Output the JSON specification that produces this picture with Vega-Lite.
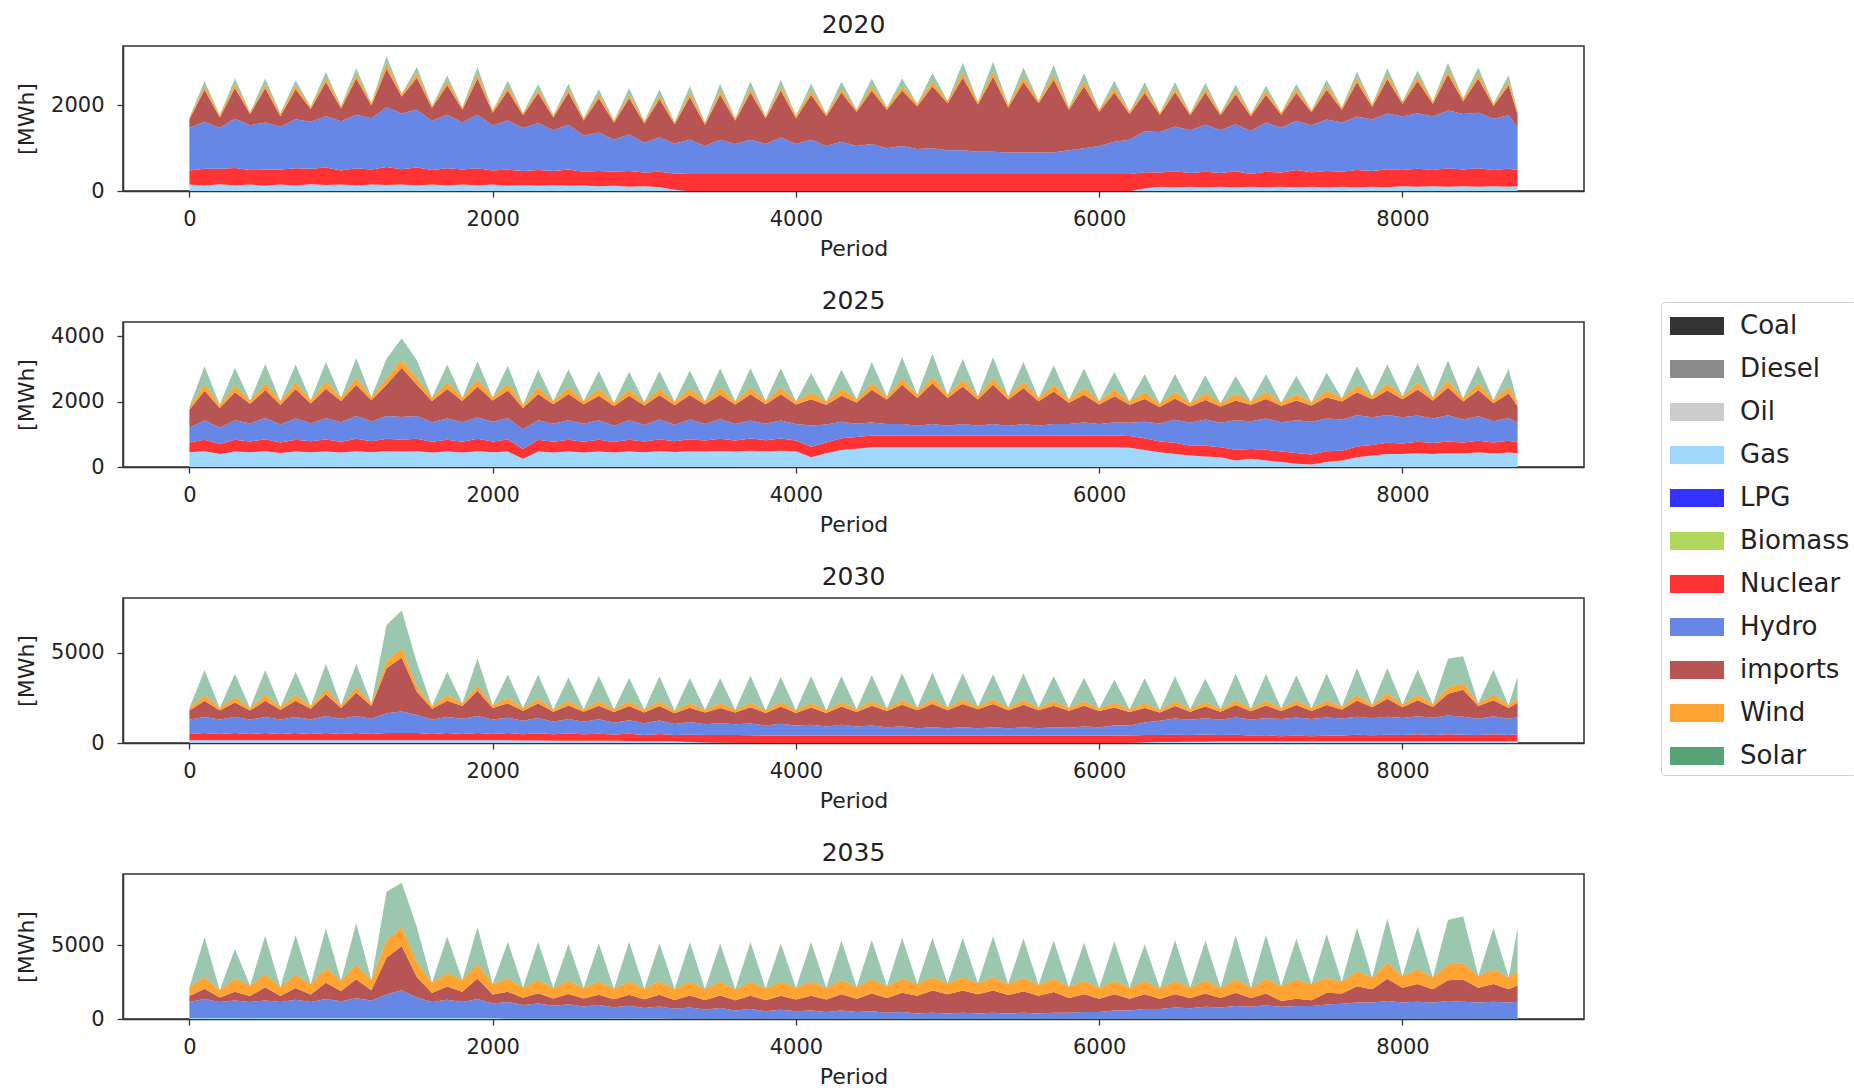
{
  "$schema": "https://vega.github.io/schema/vega-lite/v6.json",
  "padding": {"left": 14, "top": 12, "right": 0, "bottom": 0},
  "bounds": "flush",
  "spacing": 131,
  "config": {
    "view": {"stroke": "#333333", "strokeWidth": 1.5},
    "title": {"font": "DejaVu Sans", "fontSize": 25, "fontWeight": "normal", "color": "#222222", "anchor": "middle", "baseline": "alphabetic", "offset": 8},
    "axis": {"labelFont": "DejaVu Sans", "labelFontSize": 21, "titleFont": "DejaVu Sans", "titleFontSize": 22, "titleFontWeight": "normal", "labelColor": "#222222", "titleColor": "#222222", "domainColor": "#333333", "tickColor": "#333333", "tickSize": 6, "domainWidth": 1.5, "tickWidth": 1.3, "grid": false, "labelFlush": false, "labelOverlap": false},
    "axisX": {"labelPadding": 11, "titlePadding": 9},
    "axisY": {"labelPadding": 13, "titlePadding": 12},
    "area": {"interpolate": "linear"}
  },
  "datasets": {
    "ord": [
      {"source": "Gas", "k": 0}, {"source": "Nuclear", "k": 1}, {"source": "Hydro", "k": 2},
      {"source": "imports", "k": 3}, {"source": "Wind", "k": 4}, {"source": "Solar", "k": 5}
    ],
    "d2020": [
      {"t":0,"Gas":150,"Nuclear":330,"Hydro":1000,"imports":200,"Wind":40,"Solar":0},
      {"t":100,"Gas":120,"Nuclear":400,"Hydro":1100,"imports":750,"Wind":80,"Solar":120},
      {"t":200,"Gas":160,"Nuclear":360,"Hydro":950,"imports":250,"Wind":50,"Solar":0},
      {"t":300,"Gas":130,"Nuclear":410,"Hydro":1150,"imports":720,"Wind":90,"Solar":130},
      {"t":400,"Gas":150,"Nuclear":340,"Hydro":1050,"imports":260,"Wind":40,"Solar":0},
      {"t":500,"Gas":120,"Nuclear":380,"Hydro":1100,"imports":800,"Wind":80,"Solar":150},
      {"t":600,"Gas":150,"Nuclear":350,"Hydro":1000,"imports":250,"Wind":60,"Solar":0},
      {"t":700,"Gas":130,"Nuclear":400,"Hydro":1150,"imports":700,"Wind":90,"Solar":120},
      {"t":800,"Gas":160,"Nuclear":360,"Hydro":1100,"imports":300,"Wind":50,"Solar":0},
      {"t":900,"Gas":140,"Nuclear":410,"Hydro":1200,"imports":800,"Wind":90,"Solar":140},
      {"t":1000,"Gas":150,"Nuclear":330,"Hydro":1150,"imports":300,"Wind":50,"Solar":0},
      {"t":1100,"Gas":130,"Nuclear":400,"Hydro":1250,"imports":850,"Wind":90,"Solar":150},
      {"t":1200,"Gas":150,"Nuclear":350,"Hydro":1200,"imports":300,"Wind":60,"Solar":0},
      {"t":1300,"Gas":140,"Nuclear":420,"Hydro":1400,"imports":900,"Wind":110,"Solar":180},
      {"t":1400,"Gas":150,"Nuclear":360,"Hydro":1300,"imports":400,"Wind":60,"Solar":0},
      {"t":1500,"Gas":130,"Nuclear":420,"Hydro":1350,"imports":750,"Wind":100,"Solar":150},
      {"t":1600,"Gas":150,"Nuclear":340,"Hydro":1150,"imports":300,"Wind":50,"Solar":0},
      {"t":1700,"Gas":130,"Nuclear":400,"Hydro":1250,"imports":700,"Wind":90,"Solar":130},
      {"t":1800,"Gas":150,"Nuclear":350,"Hydro":1100,"imports":300,"Wind":50,"Solar":0},
      {"t":1900,"Gas":130,"Nuclear":400,"Hydro":1250,"imports":850,"Wind":100,"Solar":170},
      {"t":2000,"Gas":150,"Nuclear":330,"Hydro":1050,"imports":300,"Wind":50,"Solar":0},
      {"t":2100,"Gas":120,"Nuclear":380,"Hydro":1150,"imports":700,"Wind":90,"Solar":140},
      {"t":2200,"Gas":140,"Nuclear":330,"Hydro":1000,"imports":300,"Wind":50,"Solar":0},
      {"t":2300,"Gas":120,"Nuclear":370,"Hydro":1100,"imports":700,"Wind":80,"Solar":130},
      {"t":2400,"Gas":140,"Nuclear":330,"Hydro":950,"imports":300,"Wind":50,"Solar":0},
      {"t":2500,"Gas":120,"Nuclear":380,"Hydro":1050,"imports":750,"Wind":80,"Solar":130},
      {"t":2600,"Gas":130,"Nuclear":320,"Hydro":850,"imports":350,"Wind":50,"Solar":0},
      {"t":2700,"Gas":110,"Nuclear":360,"Hydro":900,"imports":800,"Wind":80,"Solar":130},
      {"t":2800,"Gas":120,"Nuclear":330,"Hydro":750,"imports":400,"Wind":50,"Solar":0},
      {"t":2900,"Gas":100,"Nuclear":370,"Hydro":850,"imports":850,"Wind":80,"Solar":150},
      {"t":3000,"Gas":110,"Nuclear":320,"Hydro":700,"imports":450,"Wind":50,"Solar":0},
      {"t":3100,"Gas":90,"Nuclear":360,"Hydro":800,"imports":900,"Wind":80,"Solar":150},
      {"t":3200,"Gas":30,"Nuclear":380,"Hydro":700,"imports":450,"Wind":50,"Solar":0},
      {"t":3300,"Gas":0,"Nuclear":400,"Hydro":800,"imports":1000,"Wind":90,"Solar":160},
      {"t":3400,"Gas":0,"Nuclear":400,"Hydro":650,"imports":500,"Wind":50,"Solar":0},
      {"t":3500,"Gas":0,"Nuclear":400,"Hydro":800,"imports":1050,"Wind":90,"Solar":160},
      {"t":3600,"Gas":0,"Nuclear":400,"Hydro":700,"imports":550,"Wind":50,"Solar":0},
      {"t":3700,"Gas":0,"Nuclear":400,"Hydro":800,"imports":1100,"Wind":90,"Solar":170},
      {"t":3800,"Gas":0,"Nuclear":400,"Hydro":700,"imports":600,"Wind":50,"Solar":0},
      {"t":3900,"Gas":0,"Nuclear":400,"Hydro":850,"imports":1100,"Wind":90,"Solar":160},
      {"t":4000,"Gas":0,"Nuclear":400,"Hydro":700,"imports":600,"Wind":60,"Solar":0},
      {"t":4100,"Gas":0,"Nuclear":400,"Hydro":800,"imports":1050,"Wind":100,"Solar":160},
      {"t":4200,"Gas":0,"Nuclear":400,"Hydro":650,"imports":700,"Wind":50,"Solar":0},
      {"t":4300,"Gas":0,"Nuclear":400,"Hydro":750,"imports":1150,"Wind":90,"Solar":170},
      {"t":4400,"Gas":0,"Nuclear":400,"Hydro":650,"imports":800,"Wind":50,"Solar":0},
      {"t":4500,"Gas":0,"Nuclear":400,"Hydro":700,"imports":1250,"Wind":100,"Solar":180},
      {"t":4600,"Gas":0,"Nuclear":400,"Hydro":600,"imports":900,"Wind":50,"Solar":0},
      {"t":4700,"Gas":0,"Nuclear":400,"Hydro":650,"imports":1300,"Wind":100,"Solar":180},
      {"t":4800,"Gas":0,"Nuclear":400,"Hydro":580,"imports":1000,"Wind":60,"Solar":0},
      {"t":4900,"Gas":0,"Nuclear":400,"Hydro":600,"imports":1450,"Wind":110,"Solar":200},
      {"t":5000,"Gas":0,"Nuclear":400,"Hydro":550,"imports":1100,"Wind":60,"Solar":0},
      {"t":5100,"Gas":0,"Nuclear":400,"Hydro":550,"imports":1700,"Wind":120,"Solar":230},
      {"t":5200,"Gas":0,"Nuclear":400,"Hydro":520,"imports":1100,"Wind":60,"Solar":0},
      {"t":5300,"Gas":0,"Nuclear":400,"Hydro":520,"imports":1750,"Wind":120,"Solar":230},
      {"t":5400,"Gas":0,"Nuclear":400,"Hydro":500,"imports":1050,"Wind":60,"Solar":0},
      {"t":5500,"Gas":0,"Nuclear":400,"Hydro":500,"imports":1650,"Wind":120,"Solar":220},
      {"t":5600,"Gas":0,"Nuclear":400,"Hydro":500,"imports":1150,"Wind":60,"Solar":0},
      {"t":5700,"Gas":0,"Nuclear":400,"Hydro":500,"imports":1700,"Wind":120,"Solar":230},
      {"t":5800,"Gas":0,"Nuclear":400,"Hydro":550,"imports":950,"Wind":60,"Solar":0},
      {"t":5900,"Gas":0,"Nuclear":400,"Hydro":600,"imports":1450,"Wind":110,"Solar":200},
      {"t":6000,"Gas":0,"Nuclear":400,"Hydro":650,"imports":800,"Wind":50,"Solar":0},
      {"t":6100,"Gas":0,"Nuclear":400,"Hydro":750,"imports":1150,"Wind":100,"Solar":180},
      {"t":6200,"Gas":0,"Nuclear":400,"Hydro":800,"imports":600,"Wind":50,"Solar":0},
      {"t":6300,"Gas":60,"Nuclear":380,"Hydro":950,"imports":900,"Wind":90,"Solar":160},
      {"t":6400,"Gas":100,"Nuclear":330,"Hydro":950,"imports":400,"Wind":50,"Solar":0},
      {"t":6500,"Gas":90,"Nuclear":370,"Hydro":1050,"imports":800,"Wind":90,"Solar":150},
      {"t":6600,"Gas":100,"Nuclear":320,"Hydro":1000,"imports":350,"Wind":50,"Solar":0},
      {"t":6700,"Gas":90,"Nuclear":360,"Hydro":1100,"imports":750,"Wind":90,"Solar":140},
      {"t":6800,"Gas":100,"Nuclear":320,"Hydro":1000,"imports":350,"Wind":50,"Solar":0},
      {"t":6900,"Gas":90,"Nuclear":370,"Hydro":1100,"imports":700,"Wind":90,"Solar":140},
      {"t":7000,"Gas":100,"Nuclear":300,"Hydro":1000,"imports":350,"Wind":50,"Solar":0},
      {"t":7100,"Gas":90,"Nuclear":360,"Hydro":1150,"imports":650,"Wind":80,"Solar":130},
      {"t":7200,"Gas":100,"Nuclear":330,"Hydro":1050,"imports":300,"Wind":50,"Solar":0},
      {"t":7300,"Gas":90,"Nuclear":400,"Hydro":1150,"imports":650,"Wind":90,"Solar":130},
      {"t":7400,"Gas":100,"Nuclear":340,"Hydro":1100,"imports":300,"Wind":50,"Solar":0},
      {"t":7500,"Gas":90,"Nuclear":380,"Hydro":1200,"imports":700,"Wind":90,"Solar":140},
      {"t":7600,"Gas":100,"Nuclear":350,"Hydro":1150,"imports":300,"Wind":50,"Solar":0},
      {"t":7700,"Gas":90,"Nuclear":400,"Hydro":1250,"imports":800,"Wind":100,"Solar":150},
      {"t":7800,"Gas":100,"Nuclear":370,"Hydro":1200,"imports":300,"Wind":50,"Solar":0},
      {"t":7900,"Gas":90,"Nuclear":420,"Hydro":1300,"imports":800,"Wind":100,"Solar":160},
      {"t":8000,"Gas":110,"Nuclear":380,"Hydro":1250,"imports":300,"Wind":50,"Solar":0},
      {"t":8100,"Gas":100,"Nuclear":420,"Hydro":1300,"imports":750,"Wind":100,"Solar":150},
      {"t":8200,"Gas":110,"Nuclear":380,"Hydro":1250,"imports":300,"Wind":60,"Solar":0},
      {"t":8300,"Gas":100,"Nuclear":430,"Hydro":1350,"imports":850,"Wind":100,"Solar":170},
      {"t":8400,"Gas":110,"Nuclear":390,"Hydro":1300,"imports":300,"Wind":60,"Solar":0},
      {"t":8500,"Gas":100,"Nuclear":430,"Hydro":1300,"imports":800,"Wind":100,"Solar":160},
      {"t":8600,"Gas":110,"Nuclear":380,"Hydro":1200,"imports":300,"Wind":50,"Solar":0},
      {"t":8700,"Gas":100,"Nuclear":420,"Hydro":1250,"imports":700,"Wind":90,"Solar":150},
      {"t":8759,"Gas":110,"Nuclear":380,"Hydro":1000,"imports":300,"Wind":50,"Solar":0}
    ],
    "d2025": [
      {"t":0,"Gas":450,"Nuclear":300,"Hydro":450,"imports":550,"Wind":100,"Solar":0},
      {"t":100,"Gas":480,"Nuclear":350,"Hydro":600,"imports":900,"Wind":200,"Solar":550},
      {"t":200,"Gas":400,"Nuclear":300,"Hydro":500,"imports":600,"Wind":100,"Solar":0},
      {"t":300,"Gas":470,"Nuclear":360,"Hydro":600,"imports":850,"Wind":200,"Solar":550},
      {"t":400,"Gas":450,"Nuclear":330,"Hydro":550,"imports":600,"Wind":100,"Solar":0},
      {"t":500,"Gas":480,"Nuclear":370,"Hydro":650,"imports":850,"Wind":200,"Solar":600},
      {"t":600,"Gas":430,"Nuclear":320,"Hydro":550,"imports":600,"Wind":120,"Solar":0},
      {"t":700,"Gas":470,"Nuclear":360,"Hydro":650,"imports":900,"Wind":200,"Solar":550},
      {"t":800,"Gas":450,"Nuclear":340,"Hydro":550,"imports":600,"Wind":100,"Solar":0},
      {"t":900,"Gas":470,"Nuclear":370,"Hydro":650,"imports":900,"Wind":220,"Solar":600},
      {"t":1000,"Gas":440,"Nuclear":330,"Hydro":600,"imports":650,"Wind":100,"Solar":0},
      {"t":1100,"Gas":480,"Nuclear":380,"Hydro":700,"imports":950,"Wind":220,"Solar":600},
      {"t":1200,"Gas":450,"Nuclear":340,"Hydro":600,"imports":650,"Wind":100,"Solar":0},
      {"t":1300,"Gas":480,"Nuclear":380,"Hydro":700,"imports":950,"Wind":200,"Solar":600},
      {"t":1400,"Gas":470,"Nuclear":360,"Hydro":700,"imports":1500,"Wind":250,"Solar":650},
      {"t":1500,"Gas":480,"Nuclear":380,"Hydro":700,"imports":950,"Wind":200,"Solar":550},
      {"t":1600,"Gas":440,"Nuclear":330,"Hydro":600,"imports":650,"Wind":100,"Solar":0},
      {"t":1700,"Gas":470,"Nuclear":360,"Hydro":650,"imports":900,"Wind":200,"Solar":550},
      {"t":1800,"Gas":440,"Nuclear":330,"Hydro":600,"imports":650,"Wind":100,"Solar":0},
      {"t":1900,"Gas":480,"Nuclear":380,"Hydro":650,"imports":950,"Wind":220,"Solar":550},
      {"t":2000,"Gas":450,"Nuclear":330,"Hydro":600,"imports":650,"Wind":100,"Solar":0},
      {"t":2100,"Gas":470,"Nuclear":370,"Hydro":650,"imports":850,"Wind":200,"Solar":550},
      {"t":2200,"Gas":250,"Nuclear":300,"Hydro":600,"imports":650,"Wind":100,"Solar":0},
      {"t":2300,"Gas":470,"Nuclear":360,"Hydro":600,"imports":800,"Wind":200,"Solar":550},
      {"t":2400,"Gas":440,"Nuclear":330,"Hydro":550,"imports":600,"Wind":100,"Solar":0},
      {"t":2500,"Gas":470,"Nuclear":360,"Hydro":600,"imports":800,"Wind":200,"Solar":550},
      {"t":2600,"Gas":440,"Nuclear":330,"Hydro":550,"imports":600,"Wind":100,"Solar":0},
      {"t":2700,"Gas":470,"Nuclear":360,"Hydro":600,"imports":750,"Wind":200,"Solar":550},
      {"t":2800,"Gas":440,"Nuclear":320,"Hydro":500,"imports":600,"Wind":100,"Solar":0},
      {"t":2900,"Gas":470,"Nuclear":360,"Hydro":600,"imports":750,"Wind":180,"Solar":550},
      {"t":3000,"Gas":450,"Nuclear":330,"Hydro":500,"imports":600,"Wind":100,"Solar":0},
      {"t":3100,"Gas":480,"Nuclear":370,"Hydro":600,"imports":750,"Wind":180,"Solar":550},
      {"t":3200,"Gas":460,"Nuclear":330,"Hydro":500,"imports":600,"Wind":100,"Solar":0},
      {"t":3300,"Gas":480,"Nuclear":370,"Hydro":600,"imports":750,"Wind":200,"Solar":550},
      {"t":3400,"Gas":470,"Nuclear":340,"Hydro":500,"imports":600,"Wind":100,"Solar":0},
      {"t":3500,"Gas":490,"Nuclear":370,"Hydro":600,"imports":750,"Wind":200,"Solar":600},
      {"t":3600,"Gas":470,"Nuclear":340,"Hydro":500,"imports":600,"Wind":100,"Solar":0},
      {"t":3700,"Gas":500,"Nuclear":370,"Hydro":550,"imports":800,"Wind":200,"Solar":600},
      {"t":3800,"Gas":480,"Nuclear":340,"Hydro":500,"imports":600,"Wind":100,"Solar":0},
      {"t":3900,"Gas":500,"Nuclear":370,"Hydro":550,"imports":800,"Wind":200,"Solar":600},
      {"t":4000,"Gas":480,"Nuclear":330,"Hydro":500,"imports":600,"Wind":100,"Solar":0},
      {"t":4100,"Gas":300,"Nuclear":320,"Hydro":650,"imports":800,"Wind":200,"Solar":600},
      {"t":4200,"Gas":420,"Nuclear":330,"Hydro":550,"imports":600,"Wind":100,"Solar":0},
      {"t":4300,"Gas":520,"Nuclear":360,"Hydro":500,"imports":800,"Wind":200,"Solar":600},
      {"t":4400,"Gas":560,"Nuclear":360,"Hydro":400,"imports":650,"Wind":100,"Solar":0},
      {"t":4500,"Gas":600,"Nuclear":360,"Hydro":400,"imports":1000,"Wind":200,"Solar":650},
      {"t":4600,"Gas":600,"Nuclear":360,"Hydro":350,"imports":750,"Wind":100,"Solar":0},
      {"t":4700,"Gas":600,"Nuclear":360,"Hydro":350,"imports":1200,"Wind":200,"Solar":650},
      {"t":4800,"Gas":600,"Nuclear":360,"Hydro":300,"imports":850,"Wind":100,"Solar":0},
      {"t":4900,"Gas":600,"Nuclear":360,"Hydro":350,"imports":1250,"Wind":200,"Solar":700},
      {"t":5000,"Gas":600,"Nuclear":360,"Hydro":300,"imports":850,"Wind":100,"Solar":0},
      {"t":5100,"Gas":600,"Nuclear":360,"Hydro":350,"imports":1150,"Wind":200,"Solar":650},
      {"t":5200,"Gas":600,"Nuclear":360,"Hydro":300,"imports":800,"Wind":100,"Solar":0},
      {"t":5300,"Gas":600,"Nuclear":360,"Hydro":350,"imports":1200,"Wind":200,"Solar":650},
      {"t":5400,"Gas":600,"Nuclear":360,"Hydro":300,"imports":800,"Wind":100,"Solar":0},
      {"t":5500,"Gas":600,"Nuclear":360,"Hydro":350,"imports":1100,"Wind":200,"Solar":600},
      {"t":5600,"Gas":600,"Nuclear":360,"Hydro":300,"imports":750,"Wind":100,"Solar":0},
      {"t":5700,"Gas":600,"Nuclear":360,"Hydro":350,"imports":1000,"Wind":200,"Solar":600},
      {"t":5800,"Gas":600,"Nuclear":360,"Hydro":350,"imports":650,"Wind":100,"Solar":0},
      {"t":5900,"Gas":600,"Nuclear":360,"Hydro":400,"imports":850,"Wind":200,"Solar":600},
      {"t":6000,"Gas":600,"Nuclear":360,"Hydro":350,"imports":600,"Wind":100,"Solar":0},
      {"t":6100,"Gas":600,"Nuclear":360,"Hydro":400,"imports":800,"Wind":200,"Solar":550},
      {"t":6200,"Gas":590,"Nuclear":360,"Hydro":400,"imports":550,"Wind":100,"Solar":0},
      {"t":6300,"Gas":520,"Nuclear":360,"Hydro":500,"imports":700,"Wind":200,"Solar":550},
      {"t":6400,"Gas":450,"Nuclear":330,"Hydro":550,"imports":500,"Wind":100,"Solar":0},
      {"t":6500,"Gas":400,"Nuclear":340,"Hydro":700,"imports":650,"Wind":200,"Solar":550},
      {"t":6600,"Gas":350,"Nuclear":300,"Hydro":700,"imports":500,"Wind":100,"Solar":0},
      {"t":6700,"Gas":320,"Nuclear":330,"Hydro":800,"imports":600,"Wind":200,"Solar":550},
      {"t":6800,"Gas":300,"Nuclear":300,"Hydro":750,"imports":500,"Wind":100,"Solar":0},
      {"t":6900,"Gas":200,"Nuclear":330,"Hydro":900,"imports":600,"Wind":200,"Solar":550},
      {"t":7000,"Gas":250,"Nuclear":300,"Hydro":850,"imports":500,"Wind":100,"Solar":0},
      {"t":7100,"Gas":200,"Nuclear":330,"Hydro":950,"imports":600,"Wind":200,"Solar":550},
      {"t":7200,"Gas":150,"Nuclear":320,"Hydro":900,"imports":500,"Wind":100,"Solar":0},
      {"t":7300,"Gas":100,"Nuclear":330,"Hydro":1000,"imports":600,"Wind":200,"Solar":550},
      {"t":7400,"Gas":80,"Nuclear":300,"Hydro":1000,"imports":500,"Wind":100,"Solar":0},
      {"t":7500,"Gas":150,"Nuclear":330,"Hydro":1000,"imports":650,"Wind":200,"Solar":550},
      {"t":7600,"Gas":200,"Nuclear":300,"Hydro":950,"imports":550,"Wind":100,"Solar":0},
      {"t":7700,"Gas":300,"Nuclear":330,"Hydro":950,"imports":700,"Wind":200,"Solar":600},
      {"t":7800,"Gas":350,"Nuclear":320,"Hydro":850,"imports":550,"Wind":100,"Solar":0},
      {"t":7900,"Gas":400,"Nuclear":340,"Hydro":850,"imports":750,"Wind":200,"Solar":600},
      {"t":8000,"Gas":400,"Nuclear":320,"Hydro":800,"imports":550,"Wind":100,"Solar":0},
      {"t":8100,"Gas":420,"Nuclear":350,"Hydro":800,"imports":800,"Wind":200,"Solar":600},
      {"t":8200,"Gas":400,"Nuclear":330,"Hydro":750,"imports":550,"Wind":100,"Solar":0},
      {"t":8300,"Gas":430,"Nuclear":350,"Hydro":800,"imports":850,"Wind":220,"Solar":600},
      {"t":8400,"Gas":420,"Nuclear":330,"Hydro":700,"imports":550,"Wind":100,"Solar":0},
      {"t":8500,"Gas":440,"Nuclear":360,"Hydro":750,"imports":800,"Wind":200,"Solar":550},
      {"t":8600,"Gas":420,"Nuclear":330,"Hydro":650,"imports":550,"Wind":100,"Solar":0},
      {"t":8700,"Gas":440,"Nuclear":360,"Hydro":700,"imports":750,"Wind":200,"Solar":550},
      {"t":8759,"Gas":420,"Nuclear":330,"Hydro":600,"imports":500,"Wind":100,"Solar":0}
    ],
    "d2030": [
      {"t":0,"Gas":150,"Nuclear":350,"Hydro":800,"imports":500,"Wind":150,"Solar":0},
      {"t":100,"Gas":150,"Nuclear":400,"Hydro":900,"imports":900,"Wind":300,"Solar":1400},
      {"t":200,"Gas":150,"Nuclear":350,"Hydro":800,"imports":500,"Wind":150,"Solar":0},
      {"t":300,"Gas":150,"Nuclear":400,"Hydro":900,"imports":800,"Wind":300,"Solar":1300},
      {"t":400,"Gas":150,"Nuclear":350,"Hydro":800,"imports":500,"Wind":150,"Solar":0},
      {"t":500,"Gas":150,"Nuclear":400,"Hydro":900,"imports":900,"Wind":300,"Solar":1400},
      {"t":600,"Gas":150,"Nuclear":350,"Hydro":800,"imports":550,"Wind":150,"Solar":0},
      {"t":700,"Gas":150,"Nuclear":400,"Hydro":900,"imports":900,"Wind":300,"Solar":1300},
      {"t":800,"Gas":150,"Nuclear":350,"Hydro":800,"imports":600,"Wind":150,"Solar":0},
      {"t":900,"Gas":150,"Nuclear":400,"Hydro":950,"imports":1200,"Wind":300,"Solar":1400},
      {"t":1000,"Gas":150,"Nuclear":350,"Hydro":850,"imports":600,"Wind":150,"Solar":0},
      {"t":1100,"Gas":150,"Nuclear":400,"Hydro":950,"imports":1300,"Wind":300,"Solar":1300},
      {"t":1200,"Gas":150,"Nuclear":350,"Hydro":850,"imports":700,"Wind":150,"Solar":0},
      {"t":1300,"Gas":150,"Nuclear":400,"Hydro":1100,"imports":2500,"Wind":400,"Solar":2000},
      {"t":1400,"Gas":150,"Nuclear":400,"Hydro":1200,"imports":3000,"Wind":500,"Solar":2100},
      {"t":1500,"Gas":150,"Nuclear":400,"Hydro":1000,"imports":1300,"Wind":300,"Solar":1300},
      {"t":1600,"Gas":150,"Nuclear":350,"Hydro":800,"imports":600,"Wind":150,"Solar":0},
      {"t":1700,"Gas":150,"Nuclear":400,"Hydro":900,"imports":900,"Wind":300,"Solar":1300},
      {"t":1800,"Gas":150,"Nuclear":350,"Hydro":850,"imports":700,"Wind":150,"Solar":0},
      {"t":1900,"Gas":150,"Nuclear":400,"Hydro":950,"imports":1400,"Wind":300,"Solar":1500},
      {"t":2000,"Gas":150,"Nuclear":350,"Hydro":800,"imports":650,"Wind":150,"Solar":0},
      {"t":2100,"Gas":150,"Nuclear":400,"Hydro":850,"imports":800,"Wind":300,"Solar":1300},
      {"t":2200,"Gas":140,"Nuclear":350,"Hydro":750,"imports":550,"Wind":150,"Solar":0},
      {"t":2300,"Gas":140,"Nuclear":400,"Hydro":850,"imports":800,"Wind":250,"Solar":1350},
      {"t":2400,"Gas":130,"Nuclear":350,"Hydro":700,"imports":550,"Wind":150,"Solar":0},
      {"t":2500,"Gas":130,"Nuclear":400,"Hydro":800,"imports":750,"Wind":250,"Solar":1300},
      {"t":2600,"Gas":130,"Nuclear":350,"Hydro":700,"imports":550,"Wind":150,"Solar":0},
      {"t":2700,"Gas":120,"Nuclear":400,"Hydro":800,"imports":750,"Wind":250,"Solar":1400},
      {"t":2800,"Gas":120,"Nuclear":350,"Hydro":650,"imports":600,"Wind":150,"Solar":0},
      {"t":2900,"Gas":110,"Nuclear":400,"Hydro":750,"imports":800,"Wind":250,"Solar":1300},
      {"t":3000,"Gas":100,"Nuclear":350,"Hydro":650,"imports":600,"Wind":150,"Solar":0},
      {"t":3100,"Gas":100,"Nuclear":400,"Hydro":750,"imports":800,"Wind":250,"Solar":1400},
      {"t":3200,"Gas":80,"Nuclear":370,"Hydro":600,"imports":600,"Wind":150,"Solar":0},
      {"t":3300,"Gas":60,"Nuclear":400,"Hydro":700,"imports":800,"Wind":250,"Solar":1400},
      {"t":3400,"Gas":40,"Nuclear":400,"Hydro":600,"imports":650,"Wind":150,"Solar":0},
      {"t":3500,"Gas":30,"Nuclear":420,"Hydro":650,"imports":850,"Wind":250,"Solar":1400},
      {"t":3600,"Gas":20,"Nuclear":420,"Hydro":600,"imports":650,"Wind":150,"Solar":0},
      {"t":3700,"Gas":10,"Nuclear":420,"Hydro":650,"imports":900,"Wind":250,"Solar":1500},
      {"t":3800,"Gas":0,"Nuclear":420,"Hydro":550,"imports":700,"Wind":150,"Solar":0},
      {"t":3900,"Gas":0,"Nuclear":420,"Hydro":650,"imports":950,"Wind":250,"Solar":1400},
      {"t":4000,"Gas":0,"Nuclear":420,"Hydro":550,"imports":700,"Wind":150,"Solar":0},
      {"t":4100,"Gas":0,"Nuclear":420,"Hydro":600,"imports":950,"Wind":250,"Solar":1500},
      {"t":4200,"Gas":0,"Nuclear":420,"Hydro":500,"imports":750,"Wind":150,"Solar":0},
      {"t":4300,"Gas":0,"Nuclear":420,"Hydro":600,"imports":1000,"Wind":250,"Solar":1450},
      {"t":4400,"Gas":0,"Nuclear":420,"Hydro":500,"imports":800,"Wind":150,"Solar":0},
      {"t":4500,"Gas":0,"Nuclear":420,"Hydro":550,"imports":1100,"Wind":250,"Solar":1450},
      {"t":4600,"Gas":0,"Nuclear":420,"Hydro":450,"imports":900,"Wind":150,"Solar":0},
      {"t":4700,"Gas":0,"Nuclear":420,"Hydro":500,"imports":1200,"Wind":250,"Solar":1500},
      {"t":4800,"Gas":0,"Nuclear":420,"Hydro":400,"imports":1000,"Wind":150,"Solar":0},
      {"t":4900,"Gas":0,"Nuclear":420,"Hydro":450,"imports":1300,"Wind":250,"Solar":1500},
      {"t":5000,"Gas":0,"Nuclear":420,"Hydro":400,"imports":1000,"Wind":150,"Solar":0},
      {"t":5100,"Gas":0,"Nuclear":420,"Hydro":450,"imports":1300,"Wind":250,"Solar":1450},
      {"t":5200,"Gas":0,"Nuclear":420,"Hydro":400,"imports":1050,"Wind":150,"Solar":0},
      {"t":5300,"Gas":0,"Nuclear":420,"Hydro":450,"imports":1300,"Wind":250,"Solar":1400},
      {"t":5400,"Gas":0,"Nuclear":420,"Hydro":400,"imports":1000,"Wind":150,"Solar":0},
      {"t":5500,"Gas":0,"Nuclear":420,"Hydro":450,"imports":1250,"Wind":250,"Solar":1500},
      {"t":5600,"Gas":0,"Nuclear":420,"Hydro":400,"imports":1000,"Wind":150,"Solar":0},
      {"t":5700,"Gas":0,"Nuclear":420,"Hydro":450,"imports":1200,"Wind":250,"Solar":1400},
      {"t":5800,"Gas":0,"Nuclear":420,"Hydro":420,"imports":950,"Wind":150,"Solar":0},
      {"t":5900,"Gas":0,"Nuclear":420,"Hydro":500,"imports":1150,"Wind":250,"Solar":1300},
      {"t":6000,"Gas":0,"Nuclear":420,"Hydro":450,"imports":900,"Wind":150,"Solar":0},
      {"t":6100,"Gas":0,"Nuclear":420,"Hydro":550,"imports":1000,"Wind":250,"Solar":1300},
      {"t":6200,"Gas":20,"Nuclear":400,"Hydro":550,"imports":750,"Wind":150,"Solar":0},
      {"t":6300,"Gas":40,"Nuclear":400,"Hydro":700,"imports":800,"Wind":250,"Solar":1400},
      {"t":6400,"Gas":60,"Nuclear":380,"Hydro":800,"imports":450,"Wind":150,"Solar":0},
      {"t":6500,"Gas":60,"Nuclear":400,"Hydro":900,"imports":700,"Wind":250,"Solar":1400},
      {"t":6600,"Gas":70,"Nuclear":370,"Hydro":850,"imports":450,"Wind":150,"Solar":0},
      {"t":6700,"Gas":70,"Nuclear":400,"Hydro":900,"imports":650,"Wind":250,"Solar":1300},
      {"t":6800,"Gas":80,"Nuclear":360,"Hydro":850,"imports":450,"Wind":150,"Solar":0},
      {"t":6900,"Gas":80,"Nuclear":380,"Hydro":950,"imports":700,"Wind":250,"Solar":1500},
      {"t":7000,"Gas":80,"Nuclear":330,"Hydro":900,"imports":450,"Wind":150,"Solar":0},
      {"t":7100,"Gas":80,"Nuclear":350,"Hydro":950,"imports":700,"Wind":250,"Solar":1500},
      {"t":7200,"Gas":80,"Nuclear":300,"Hydro":950,"imports":450,"Wind":150,"Solar":0},
      {"t":7300,"Gas":80,"Nuclear":330,"Hydro":1000,"imports":700,"Wind":250,"Solar":1400},
      {"t":7400,"Gas":80,"Nuclear":300,"Hydro":950,"imports":450,"Wind":150,"Solar":0},
      {"t":7500,"Gas":80,"Nuclear":330,"Hydro":1000,"imports":700,"Wind":250,"Solar":1500},
      {"t":7600,"Gas":80,"Nuclear":330,"Hydro":950,"imports":500,"Wind":150,"Solar":0},
      {"t":7700,"Gas":80,"Nuclear":380,"Hydro":1000,"imports":900,"Wind":300,"Solar":1500},
      {"t":7800,"Gas":80,"Nuclear":350,"Hydro":950,"imports":600,"Wind":150,"Solar":0},
      {"t":7900,"Gas":80,"Nuclear":380,"Hydro":1000,"imports":1000,"Wind":300,"Solar":1400},
      {"t":8000,"Gas":80,"Nuclear":360,"Hydro":950,"imports":600,"Wind":150,"Solar":0},
      {"t":8100,"Gas":80,"Nuclear":400,"Hydro":1000,"imports":900,"Wind":300,"Solar":1400},
      {"t":8200,"Gas":80,"Nuclear":370,"Hydro":950,"imports":600,"Wind":150,"Solar":0},
      {"t":8300,"Gas":80,"Nuclear":400,"Hydro":1050,"imports":1200,"Wind":350,"Solar":1600},
      {"t":8400,"Gas":80,"Nuclear":380,"Hydro":1000,"imports":1500,"Wind":350,"Solar":1500},
      {"t":8500,"Gas":80,"Nuclear":370,"Hydro":900,"imports":700,"Wind":150,"Solar":0},
      {"t":8600,"Gas":80,"Nuclear":400,"Hydro":1000,"imports":900,"Wind":300,"Solar":1400},
      {"t":8700,"Gas":80,"Nuclear":370,"Hydro":900,"imports":600,"Wind":150,"Solar":0},
      {"t":8759,"Gas":80,"Nuclear":400,"Hydro":950,"imports":800,"Wind":250,"Solar":1200}
    ],
    "d2035": [
      {"t":0,"Gas":60,"Nuclear":0,"Hydro":1100,"imports":400,"Wind":600,"Solar":0},
      {"t":100,"Gas":60,"Nuclear":0,"Hydro":1300,"imports":700,"Wind":800,"Solar":2700},
      {"t":200,"Gas":60,"Nuclear":0,"Hydro":1100,"imports":300,"Wind":500,"Solar":0},
      {"t":300,"Gas":60,"Nuclear":0,"Hydro":1200,"imports":600,"Wind":900,"Solar":2000},
      {"t":400,"Gas":60,"Nuclear":0,"Hydro":1100,"imports":400,"Wind":700,"Solar":0},
      {"t":500,"Gas":60,"Nuclear":0,"Hydro":1200,"imports":900,"Wind":900,"Solar":2600},
      {"t":600,"Gas":60,"Nuclear":0,"Hydro":1100,"imports":400,"Wind":600,"Solar":0},
      {"t":700,"Gas":60,"Nuclear":0,"Hydro":1250,"imports":800,"Wind":900,"Solar":2700},
      {"t":800,"Gas":60,"Nuclear":0,"Hydro":1100,"imports":500,"Wind":700,"Solar":0},
      {"t":900,"Gas":60,"Nuclear":0,"Hydro":1300,"imports":1100,"Wind":1000,"Solar":2700},
      {"t":1000,"Gas":60,"Nuclear":0,"Hydro":1150,"imports":700,"Wind":700,"Solar":0},
      {"t":1100,"Gas":60,"Nuclear":0,"Hydro":1350,"imports":1300,"Wind":1000,"Solar":2800},
      {"t":1200,"Gas":60,"Nuclear":0,"Hydro":1200,"imports":700,"Wind":700,"Solar":0},
      {"t":1300,"Gas":60,"Nuclear":0,"Hydro":1600,"imports":2500,"Wind":1200,"Solar":3300},
      {"t":1400,"Gas":60,"Nuclear":0,"Hydro":1900,"imports":3000,"Wind":1300,"Solar":3000},
      {"t":1500,"Gas":60,"Nuclear":0,"Hydro":1400,"imports":1400,"Wind":1000,"Solar":2400},
      {"t":1600,"Gas":60,"Nuclear":0,"Hydro":1100,"imports":600,"Wind":700,"Solar":0},
      {"t":1700,"Gas":60,"Nuclear":0,"Hydro":1250,"imports":900,"Wind":900,"Solar":2500},
      {"t":1800,"Gas":60,"Nuclear":0,"Hydro":1100,"imports":700,"Wind":800,"Solar":0},
      {"t":1900,"Gas":60,"Nuclear":0,"Hydro":1300,"imports":1400,"Wind":1000,"Solar":2500},
      {"t":2000,"Gas":60,"Nuclear":0,"Hydro":1000,"imports":600,"Wind":700,"Solar":0},
      {"t":2100,"Gas":50,"Nuclear":0,"Hydro":1100,"imports":700,"Wind":900,"Solar":2500},
      {"t":2200,"Gas":50,"Nuclear":0,"Hydro":900,"imports":500,"Wind":700,"Solar":0},
      {"t":2300,"Gas":50,"Nuclear":0,"Hydro":1000,"imports":700,"Wind":900,"Solar":2600},
      {"t":2400,"Gas":50,"Nuclear":0,"Hydro":850,"imports":500,"Wind":700,"Solar":0},
      {"t":2500,"Gas":50,"Nuclear":0,"Hydro":950,"imports":700,"Wind":900,"Solar":2500},
      {"t":2600,"Gas":50,"Nuclear":0,"Hydro":800,"imports":550,"Wind":700,"Solar":0},
      {"t":2700,"Gas":50,"Nuclear":0,"Hydro":900,"imports":700,"Wind":900,"Solar":2600},
      {"t":2800,"Gas":50,"Nuclear":0,"Hydro":750,"imports":550,"Wind":700,"Solar":0},
      {"t":2900,"Gas":50,"Nuclear":0,"Hydro":850,"imports":750,"Wind":900,"Solar":2700},
      {"t":3000,"Gas":50,"Nuclear":0,"Hydro":700,"imports":600,"Wind":700,"Solar":0},
      {"t":3100,"Gas":50,"Nuclear":0,"Hydro":800,"imports":800,"Wind":900,"Solar":2600},
      {"t":3200,"Gas":40,"Nuclear":0,"Hydro":650,"imports":600,"Wind":750,"Solar":0},
      {"t":3300,"Gas":40,"Nuclear":0,"Hydro":750,"imports":800,"Wind":950,"Solar":2700},
      {"t":3400,"Gas":40,"Nuclear":0,"Hydro":600,"imports":650,"Wind":750,"Solar":0},
      {"t":3500,"Gas":40,"Nuclear":0,"Hydro":700,"imports":850,"Wind":950,"Solar":2600},
      {"t":3600,"Gas":30,"Nuclear":0,"Hydro":550,"imports":700,"Wind":750,"Solar":0},
      {"t":3700,"Gas":30,"Nuclear":0,"Hydro":650,"imports":900,"Wind":950,"Solar":2700},
      {"t":3800,"Gas":30,"Nuclear":0,"Hydro":500,"imports":750,"Wind":800,"Solar":0},
      {"t":3900,"Gas":30,"Nuclear":0,"Hydro":600,"imports":950,"Wind":950,"Solar":2600},
      {"t":4000,"Gas":30,"Nuclear":0,"Hydro":500,"imports":800,"Wind":800,"Solar":0},
      {"t":4100,"Gas":30,"Nuclear":0,"Hydro":550,"imports":1000,"Wind":950,"Solar":2700},
      {"t":4200,"Gas":30,"Nuclear":0,"Hydro":450,"imports":850,"Wind":800,"Solar":0},
      {"t":4300,"Gas":30,"Nuclear":0,"Hydro":550,"imports":1100,"Wind":950,"Solar":2700},
      {"t":4400,"Gas":30,"Nuclear":0,"Hydro":450,"imports":900,"Wind":800,"Solar":0},
      {"t":4500,"Gas":30,"Nuclear":0,"Hydro":500,"imports":1200,"Wind":950,"Solar":2700},
      {"t":4600,"Gas":30,"Nuclear":0,"Hydro":400,"imports":1000,"Wind":800,"Solar":0},
      {"t":4700,"Gas":30,"Nuclear":0,"Hydro":450,"imports":1300,"Wind":950,"Solar":2800},
      {"t":4800,"Gas":30,"Nuclear":0,"Hydro":350,"imports":1200,"Wind":800,"Solar":0},
      {"t":4900,"Gas":30,"Nuclear":0,"Hydro":400,"imports":1500,"Wind":900,"Solar":2700},
      {"t":5000,"Gas":30,"Nuclear":0,"Hydro":350,"imports":1300,"Wind":750,"Solar":0},
      {"t":5100,"Gas":30,"Nuclear":0,"Hydro":400,"imports":1500,"Wind":900,"Solar":2700},
      {"t":5200,"Gas":30,"Nuclear":0,"Hydro":350,"imports":1300,"Wind":750,"Solar":0},
      {"t":5300,"Gas":30,"Nuclear":0,"Hydro":400,"imports":1500,"Wind":900,"Solar":2800},
      {"t":5400,"Gas":30,"Nuclear":0,"Hydro":350,"imports":1250,"Wind":750,"Solar":0},
      {"t":5500,"Gas":30,"Nuclear":0,"Hydro":400,"imports":1450,"Wind":900,"Solar":2700},
      {"t":5600,"Gas":30,"Nuclear":0,"Hydro":350,"imports":1200,"Wind":750,"Solar":0},
      {"t":5700,"Gas":30,"Nuclear":0,"Hydro":400,"imports":1400,"Wind":900,"Solar":2600},
      {"t":5800,"Gas":30,"Nuclear":0,"Hydro":400,"imports":1000,"Wind":750,"Solar":0},
      {"t":5900,"Gas":30,"Nuclear":0,"Hydro":450,"imports":1200,"Wind":900,"Solar":2600},
      {"t":6000,"Gas":30,"Nuclear":0,"Hydro":450,"imports":900,"Wind":750,"Solar":0},
      {"t":6100,"Gas":30,"Nuclear":0,"Hydro":550,"imports":1100,"Wind":900,"Solar":2700},
      {"t":6200,"Gas":30,"Nuclear":0,"Hydro":550,"imports":800,"Wind":750,"Solar":0},
      {"t":6300,"Gas":30,"Nuclear":0,"Hydro":650,"imports":1000,"Wind":900,"Solar":2500},
      {"t":6400,"Gas":30,"Nuclear":0,"Hydro":650,"imports":700,"Wind":700,"Solar":0},
      {"t":6500,"Gas":30,"Nuclear":0,"Hydro":750,"imports":900,"Wind":900,"Solar":2800},
      {"t":6600,"Gas":30,"Nuclear":0,"Hydro":700,"imports":700,"Wind":700,"Solar":0},
      {"t":6700,"Gas":30,"Nuclear":0,"Hydro":800,"imports":900,"Wind":900,"Solar":2700},
      {"t":6800,"Gas":30,"Nuclear":0,"Hydro":750,"imports":650,"Wind":700,"Solar":0},
      {"t":6900,"Gas":30,"Nuclear":0,"Hydro":850,"imports":900,"Wind":900,"Solar":3000},
      {"t":7000,"Gas":30,"Nuclear":0,"Hydro":800,"imports":600,"Wind":700,"Solar":0},
      {"t":7100,"Gas":30,"Nuclear":0,"Hydro":900,"imports":800,"Wind":1000,"Solar":3000},
      {"t":7200,"Gas":30,"Nuclear":0,"Hydro":800,"imports":400,"Wind":1000,"Solar":0},
      {"t":7300,"Gas":30,"Nuclear":0,"Hydro":850,"imports":500,"Wind":1300,"Solar":2800},
      {"t":7400,"Gas":30,"Nuclear":0,"Hydro":850,"imports":400,"Wind":1100,"Solar":0},
      {"t":7500,"Gas":30,"Nuclear":0,"Hydro":950,"imports":800,"Wind":1000,"Solar":3000},
      {"t":7600,"Gas":30,"Nuclear":0,"Hydro":1000,"imports":700,"Wind":800,"Solar":0},
      {"t":7700,"Gas":30,"Nuclear":0,"Hydro":1100,"imports":1100,"Wind":1000,"Solar":3000},
      {"t":7800,"Gas":30,"Nuclear":0,"Hydro":1100,"imports":900,"Wind":800,"Solar":0},
      {"t":7900,"Gas":30,"Nuclear":0,"Hydro":1200,"imports":1500,"Wind":1100,"Solar":3000},
      {"t":8000,"Gas":30,"Nuclear":0,"Hydro":1100,"imports":1000,"Wind":800,"Solar":0},
      {"t":8100,"Gas":30,"Nuclear":0,"Hydro":1150,"imports":1200,"Wind":1000,"Solar":2900},
      {"t":8200,"Gas":30,"Nuclear":0,"Hydro":1100,"imports":900,"Wind":800,"Solar":0},
      {"t":8300,"Gas":30,"Nuclear":0,"Hydro":1200,"imports":1400,"Wind":1100,"Solar":3000},
      {"t":8400,"Gas":30,"Nuclear":0,"Hydro":1150,"imports":1500,"Wind":1100,"Solar":3200},
      {"t":8500,"Gas":30,"Nuclear":0,"Hydro":1100,"imports":1000,"Wind":800,"Solar":0},
      {"t":8600,"Gas":30,"Nuclear":0,"Hydro":1150,"imports":1200,"Wind":1000,"Solar":2800},
      {"t":8700,"Gas":30,"Nuclear":0,"Hydro":1100,"imports":900,"Wind":800,"Solar":0},
      {"t":8759,"Gas":30,"Nuclear":0,"Hydro":1150,"imports":1100,"Wind":1000,"Solar":2900}
    ]
  },
  "vconcat": [
    {
      "title": {"text": "2020"},
      "width": 1461, "height": 145,
      "data": {"name": "d2020"},
      "transform": [
        {"fold": ["Gas", "Nuclear", "Hydro", "imports", "Wind", "Solar"], "as": ["source", "MWh"]},
        {"lookup": "source", "from": {"data": {"name": "ord"}, "key": "source", "fields": ["k"]}}
      ],
      "mark": {"type": "area"},
      "encoding": {
        "x": {"field": "t", "type": "quantitative", "scale": {"domain": [-438, 9197], "nice": false, "zero": false}, "axis": {"values": [0, 2000, 4000, 6000, 8000], "format": "d", "title": "Period"}},
        "y": {"field": "MWh", "type": "quantitative", "stack": "zero", "scale": {"domain": [0, 3390], "nice": false}, "axis": {"values": [0, 2000], "format": "d", "title": "[MWh]"}},
        "order": {"field": "k", "type": "quantitative", "sort": "ascending"},
        "fillOpacity": {"condition": {"test": "datum.source === 'Solar'", "value": 0.6}, "value": 1},
        "color": {"field": "source", "type": "nominal",
          "scale": {"domain": ["Coal", "Diesel", "Oil", "Gas", "LPG", "Biomass", "Nuclear", "Hydro", "imports", "Wind", "Solar"],
                    "range": ["#333333", "#8c8c8c", "#cccccc", "#9fd8fb", "#3333ff", "#aed75b", "#ff3333", "#6787e7", "#b75555", "#ffa333", "#58a278"]},
          "legend": {"title": null, "orient": "none", "legendX": 1538, "legendY": 256, "symbolType": "M-0.833,-0.5H2.167V0.5H-0.833Z", "symbolSize": 1296, "symbolStrokeWidth": 0, "symbolOpacity": 1, "labelFont": "DejaVu Sans", "labelFontSize": 26, "labelColor": "#222222", "labelOffset": 37, "rowPadding": 12, "padding": 6, "strokeColor": "#d0d0d0", "fillColor": "#ffffff", "cornerRadius": 4}}
      }
    },
    {
      "title": {"text": "2025"},
      "width": 1461, "height": 145,
      "data": {"name": "d2025"},
      "transform": [
        {"fold": ["Gas", "Nuclear", "Hydro", "imports", "Wind", "Solar"], "as": ["source", "MWh"]},
        {"lookup": "source", "from": {"data": {"name": "ord"}, "key": "source", "fields": ["k"]}}
      ],
      "mark": {"type": "area"},
      "encoding": {
        "x": {"field": "t", "type": "quantitative", "scale": {"domain": [-438, 9197], "nice": false, "zero": false}, "axis": {"values": [0, 2000, 4000, 6000, 8000], "format": "d", "title": "Period"}},
        "y": {"field": "MWh", "type": "quantitative", "stack": "zero", "scale": {"domain": [0, 4430], "nice": false}, "axis": {"values": [0, 2000, 4000], "format": "d", "title": "[MWh]"}},
        "order": {"field": "k", "type": "quantitative", "sort": "ascending"},
        "fillOpacity": {"condition": {"test": "datum.source === 'Solar'", "value": 0.6}, "value": 1},
        "color": {"field": "source", "type": "nominal",
          "scale": {"domain": ["Coal", "Diesel", "Oil", "Gas", "LPG", "Biomass", "Nuclear", "Hydro", "imports", "Wind", "Solar"],
                    "range": ["#333333", "#8c8c8c", "#cccccc", "#9fd8fb", "#3333ff", "#aed75b", "#ff3333", "#6787e7", "#b75555", "#ffa333", "#58a278"]},
          "legend": {"title": null, "orient": "none", "legendX": 1538, "legendY": 256, "symbolType": "M-0.833,-0.5H2.167V0.5H-0.833Z", "symbolSize": 1296, "symbolStrokeWidth": 0, "symbolOpacity": 1, "labelFont": "DejaVu Sans", "labelFontSize": 26, "labelColor": "#222222", "labelOffset": 37, "rowPadding": 12, "padding": 6, "strokeColor": "#d0d0d0", "fillColor": "#ffffff", "cornerRadius": 4}}
      }
    },
    {
      "title": {"text": "2030"},
      "width": 1461, "height": 145,
      "data": {"name": "d2030"},
      "transform": [
        {"fold": ["Gas", "Nuclear", "Hydro", "imports", "Wind", "Solar"], "as": ["source", "MWh"]},
        {"lookup": "source", "from": {"data": {"name": "ord"}, "key": "source", "fields": ["k"]}}
      ],
      "mark": {"type": "area"},
      "encoding": {
        "x": {"field": "t", "type": "quantitative", "scale": {"domain": [-438, 9197], "nice": false, "zero": false}, "axis": {"values": [0, 2000, 4000, 6000, 8000], "format": "d", "title": "Period"}},
        "y": {"field": "MWh", "type": "quantitative", "stack": "zero", "scale": {"domain": [0, 8050], "nice": false}, "axis": {"values": [0, 5000], "format": "d", "title": "[MWh]"}},
        "order": {"field": "k", "type": "quantitative", "sort": "ascending"},
        "fillOpacity": {"condition": {"test": "datum.source === 'Solar'", "value": 0.6}, "value": 1},
        "color": {"field": "source", "type": "nominal",
          "scale": {"domain": ["Coal", "Diesel", "Oil", "Gas", "LPG", "Biomass", "Nuclear", "Hydro", "imports", "Wind", "Solar"],
                    "range": ["#333333", "#8c8c8c", "#cccccc", "#9fd8fb", "#3333ff", "#aed75b", "#ff3333", "#6787e7", "#b75555", "#ffa333", "#58a278"]},
          "legend": {"title": null, "orient": "none", "legendX": 1538, "legendY": 256, "symbolType": "M-0.833,-0.5H2.167V0.5H-0.833Z", "symbolSize": 1296, "symbolStrokeWidth": 0, "symbolOpacity": 1, "labelFont": "DejaVu Sans", "labelFontSize": 26, "labelColor": "#222222", "labelOffset": 37, "rowPadding": 12, "padding": 6, "strokeColor": "#d0d0d0", "fillColor": "#ffffff", "cornerRadius": 4}}
      }
    },
    {
      "title": {"text": "2035"},
      "width": 1461, "height": 145,
      "data": {"name": "d2035"},
      "transform": [
        {"fold": ["Gas", "Nuclear", "Hydro", "imports", "Wind", "Solar"], "as": ["source", "MWh"]},
        {"lookup": "source", "from": {"data": {"name": "ord"}, "key": "source", "fields": ["k"]}}
      ],
      "mark": {"type": "area"},
      "encoding": {
        "x": {"field": "t", "type": "quantitative", "scale": {"domain": [-438, 9197], "nice": false, "zero": false}, "axis": {"values": [0, 2000, 4000, 6000, 8000], "format": "d", "title": "Period"}},
        "y": {"field": "MWh", "type": "quantitative", "stack": "zero", "scale": {"domain": [0, 9860], "nice": false}, "axis": {"values": [0, 5000], "format": "d", "title": "[MWh]"}},
        "order": {"field": "k", "type": "quantitative", "sort": "ascending"},
        "fillOpacity": {"condition": {"test": "datum.source === 'Solar'", "value": 0.6}, "value": 1},
        "color": {"field": "source", "type": "nominal",
          "scale": {"domain": ["Coal", "Diesel", "Oil", "Gas", "LPG", "Biomass", "Nuclear", "Hydro", "imports", "Wind", "Solar"],
                    "range": ["#333333", "#8c8c8c", "#cccccc", "#9fd8fb", "#3333ff", "#aed75b", "#ff3333", "#6787e7", "#b75555", "#ffa333", "#58a278"]},
          "legend": {"title": null, "orient": "none", "legendX": 1538, "legendY": 256, "symbolType": "M-0.833,-0.5H2.167V0.5H-0.833Z", "symbolSize": 1296, "symbolStrokeWidth": 0, "symbolOpacity": 1, "labelFont": "DejaVu Sans", "labelFontSize": 26, "labelColor": "#222222", "labelOffset": 37, "rowPadding": 12, "padding": 6, "strokeColor": "#d0d0d0", "fillColor": "#ffffff", "cornerRadius": 4}}
      }
    }
  ]
}
